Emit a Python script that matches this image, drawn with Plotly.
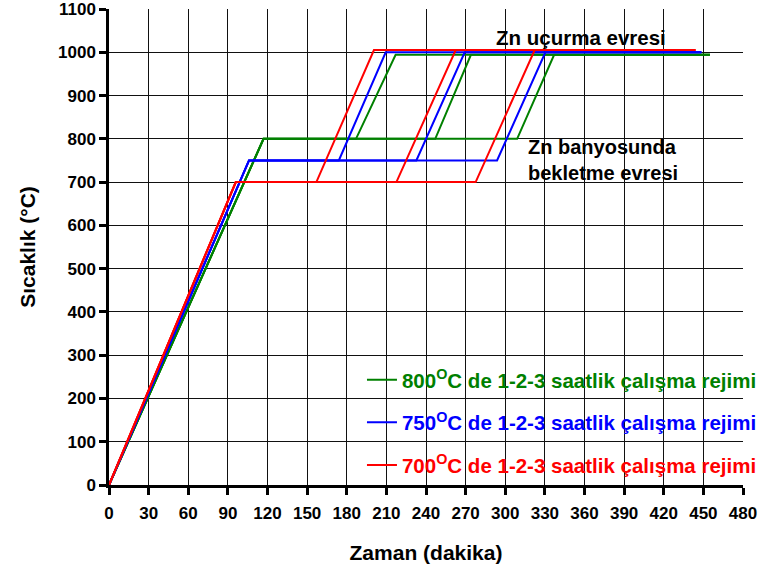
import plotly.graph_objects as go

# Time (min) / temperature (°C) paths, three runs (1-2-3 h) per regime, separated by None
t_800 = [0, 117, 187, 217, 455, None, 0, 117, 247, 274, 455, None, 0, 117, 309, 337, 455]
T_800 = [0, 800, 800, 994, 994, None, 0, 800, 800, 994, 994, None, 0, 800, 800, 994, 994]

t_750 = [0, 106, 174, 209.5, 448.5, None, 0, 106, 232.7, 269.3, 448.5, None, 0, 106, 293.8, 330.4, 448.5]
T_750 = [0, 750, 750, 1000, 1000, None, 0, 750, 750, 1000, 1000, None, 0, 750, 750, 1000, 1000]

t_700 = [0, 96, 157, 200.6, 444, None, 0, 96, 217.6, 262.5, 444, None, 0, 96, 277.6, 322.3, 444]
T_700 = [0, 700, 700, 1005, 1005, None, 0, 700, 700, 1005, 1005, None, 0, 700, 700, 1005, 1005]

x_ticks = list(range(0, 481, 30))
y_ticks = list(range(0, 1101, 100))

series = [
    ("800", t_800, T_800, "#008000"),
    ("750", t_750, T_750, "#0000ff"),
    ("700", t_700, T_700, "#ff0000"),
]

FONT = "Liberation Sans"

fig = go.Figure()
for i, (lab, xs, ys, col) in enumerate(series):
    fig.add_trace(go.Scatter(
        x=xs, y=ys, mode="lines", connectgaps=False,
        line=dict(color=col, width=2),
        name=f"<b><span style='color:{col}'>{lab}<sup>O</sup>C de 1-2-3 saatlik çalışma rejimi</span></b>",
        legendgroup=f"g{i}",
    ))

fig.add_annotation(x=357, y=1033, text="<b>Zn uçurma evresi</b>", showarrow=False,
                   font=dict(size=20.5, color="black", family=FONT))
fig.add_annotation(x=316, y=751, text="<b>Zn banyosunda<br>bekletme evresi</b>", showarrow=False,
                   xanchor="left", align="left",
                   font=dict(size=20, color="black", family=FONT))

axis_common = dict(
    showgrid=True, gridcolor="#111111", gridwidth=1.3,
    showline=True, linecolor="black", linewidth=2.5,
    ticks="outside", ticklen=7, tickwidth=2.5, tickcolor="black",
    tickfont=dict(size=17, color="black", family=FONT),
    zeroline=False, automargin=False, ticklabeloverflow="allow",
)

fig.update_xaxes(range=[0, 480], tickvals=x_ticks, ticktext=[f"<b>{v}</b>" for v in x_ticks],
                 ticklabelstandoff=4,
                 title=dict(text="<b>Zaman (dakika)</b>", font=dict(size=21, color="black", family=FONT), standoff=24),
                 **axis_common)
fig.update_yaxes(range=[0, 1100], tickvals=y_ticks, ticktext=[f"<b>{v}</b>" for v in y_ticks],
                 title=dict(text="<b>Sıcaklık (°C)</b>", font=dict(size=21, color="black", family=FONT), standoff=17),
                 **axis_common)

fig.update_layout(
    width=763, height=572,
    margin=dict(l=109, r=20, t=9, b=87, autoexpand=False),
    plot_bgcolor="white", paper_bgcolor="white",
    font=dict(family=FONT, color="black"),
    showlegend=True,
    legend=dict(x=0.399, y=0.263, xanchor="left", yanchor="top",
                bgcolor="rgba(0,0,0,0)", traceorder="grouped", tracegroupgap=13,
                font=dict(size=20.5, family=FONT)),
)

fig.write_html("out.html", config={"displayModeBar": False},
               post_script="document.documentElement.style.margin='0';document.body.style.margin='0';document.body.style.overflow='hidden';")
